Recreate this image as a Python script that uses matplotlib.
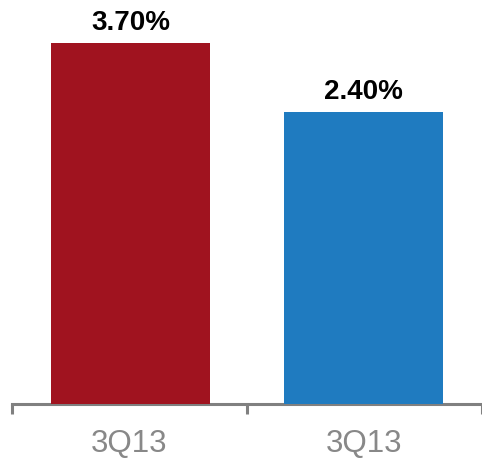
import matplotlib.pyplot as plt
from matplotlib.ticker import FixedLocator

# Chart data
categories = ['3Q13', '3Q13']
values = [3.70, 2.40]
labels = ['3.70%', '2.40%']
colors = ['#A0131F', '#1F7BC0']
baseline = -3.1  # bars are not drawn from zero in the original

plt.rcParams['font.family'] = ['Liberation Sans', 'DejaVu Sans']

fig = plt.figure(figsize=(4.82, 4.58), dpi=100)
ax = fig.add_axes([12 / 482, 54 / 458, 470 / 482, 404 / 458])

x = [0.005, 0.995]
bars = ax.bar(x, [v - baseline for v in values], bottom=baseline,
              width=0.675, color=colors, zorder=1)

for b, lab in zip(bars, labels):
    ax.annotate(lab, (b.get_x() + b.get_width() / 2, b.get_y() + b.get_height()),
                xytext=(0, 5), textcoords='offset points',
                ha='center', va='bottom', fontsize=20, fontweight='bold',
                color='black')

ax.set_xlim(-0.5, 1.5)
ax.set_ylim(baseline, 4.51)

# Axis styling
for s in ['top', 'right', 'left']:
    ax.spines[s].set_visible(False)
ax.spines['bottom'].set_color('#808080')
ax.spines['bottom'].set_linewidth(2.2)
ax.spines['bottom'].set_zorder(0.5)
ax.set_yticks([])

ax.set_xticks([0, 1])
ax.set_xticklabels(categories, fontsize=22.5, color='#888888')
ax.tick_params(axis='x', which='major', length=0, pad=18)
ax.xaxis.set_minor_locator(FixedLocator([-0.5, 0.5, 1.5]))
ax.tick_params(axis='x', which='minor', length=7.5, width=2.2, color='#808080')

fig.savefig('out.png', dpi=100)
